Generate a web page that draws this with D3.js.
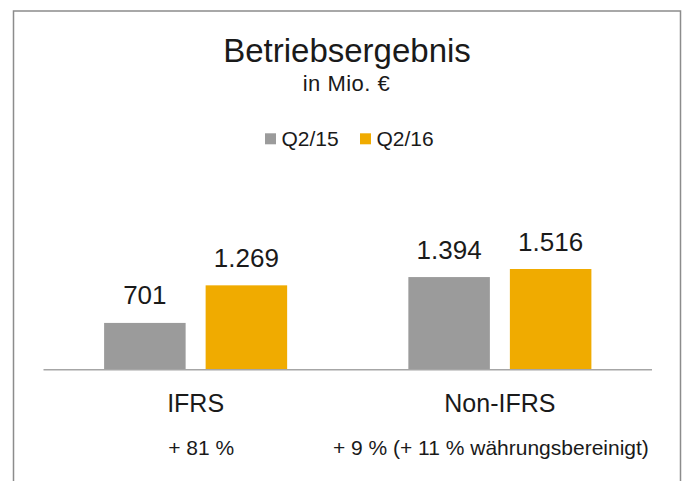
<!DOCTYPE html>
<html>
<head>
<meta charset="utf-8">
<script src="https://cdn.jsdelivr.net/npm/d3@7"></script>
<style>
  body { margin: 0; background: #fff; }
  text { font-family: "Liberation Sans", Arial, sans-serif; fill: #1a1a1a; }
</style>
</head>
<body>
<svg width="683" height="481"></svg>
<script>
var categories = ["IFRS", "Non-IFRS"]
var series = ["Q2/15", "Q2/16"]
var q215 = [701, 1394]
var q216 = [1269, 1516]
var valueLabels = [["701", "1.269"], ["1.394", "1.516"]]
var notes = ["+ 81 %", "+ 9 % (+ 11 % währungsbereinigt)"]
var noteShift = [5.5, -9]

var colors = ["#9b9b9b", "#f0ab00"]

var svg = d3.select("svg"),
    width = +svg.attr("width"),
    height = +svg.attr("height");

// frame (top, left, right only)
svg.append("path")
    .attr("d", "M13.5,481 L13.5,11 L680.5,11 L680.5,481")
    .attr("fill", "none")
    .style("stroke", "#8c8c8c")
    .style("stroke-width", 1.5)

// titles
svg.append("text").attr("x", 347).attr("y", 62)
    .attr("text-anchor", "middle").style("font-size", "33px")
    .text("Betriebsergebnis")
svg.append("text").attr("x", 346.5).attr("y", 91)
    .attr("text-anchor", "middle").style("font-size", "22px")
    .style("letter-spacing", "0.5px")
    .text("in Mio. €")

// legend
var legendX = [265, 360]
var legend = svg.append("g").selectAll("g")
    .data(series)
    .enter().append("g")
    .attr("transform", (d, i) => "translate(" + legendX[i] + ",0)")
legend.append("rect")
    .attr("x", 0).attr("y", 133.3).attr("width", 11).attr("height", 11)
    .attr("fill", (d, i) => colors[i])
legend.append("text")
    .attr("x", 16.5).attr("y", 145.7)
    .style("font-size", "21px")
    .text(d => d)

var x0 = d3.scaleBand()
    .domain(categories)
    .range([43.5, 652])

var x1 = d3.scaleBand()
    .domain(series)
    .range([0, x0.bandwidth()])
    .paddingInner(0.197)
    .paddingOuter(0.597)

var y = d3.scaleLinear()
    .domain([0, 1516])
    .range([369.3, 269])

var rows = categories.map((c, i) => ({
    cat: c,
    vals: [q215[i], q216[i]],
    labels: valueLabels[i]
}))

var groups = svg.append("g")
    .selectAll("g")
    .data(rows)
    .enter().append("g")
    .attr("transform", d => "translate(" + x0(d.cat) + ",0)")

groups.selectAll("rect")
    .data(d => d.vals.map((v, j) => ({ s: series[j], v: v, label: d.labels[j], j: j })))
    .enter().append("rect")
    .attr("x", d => x1(d.s))
    .attr("y", d => y(d.v))
    .attr("width", x1.bandwidth())
    .attr("height", d => y(0) - y(d.v))
    .attr("fill", d => colors[d.j])

groups.selectAll("text.val")
    .data(d => d.vals.map((v, j) => ({ s: series[j], v: v, label: d.labels[j] })))
    .enter().append("text")
    .attr("class", "val")
    .attr("x", d => x1(d.s) + x1.bandwidth() / 2)
    .attr("y", d => y(d.v) - 18.5)
    .attr("text-anchor", "middle")
    .style("font-size", "26px")
    .text(d => d.label)

// baseline
svg.append("line")
    .attr("x1", x0.range()[0]).attr("x2", x0.range()[1])
    .attr("y1", y(0) + 0.5).attr("y2", y(0) + 0.5)
    .style("stroke", "#a6a6a6")
    .style("stroke-width", 1.5)

// category labels and notes
svg.append("g").selectAll("text")
    .data(categories)
    .enter().append("text")
    .attr("x", d => x0(d) + x0.bandwidth() / 2)
    .attr("y", 412.3)
    .attr("text-anchor", "middle")
    .style("font-size", "25px")
    .text(d => d)

svg.append("g").selectAll("text")
    .data(notes)
    .enter().append("text")
    .attr("x", (d, i) => x0(categories[i]) + x0.bandwidth() / 2 + noteShift[i])
    .attr("y", 455)
    .attr("text-anchor", "middle")
    .style("font-size", "21px")
    .text(d => d)
</script>
</body>
</html>
